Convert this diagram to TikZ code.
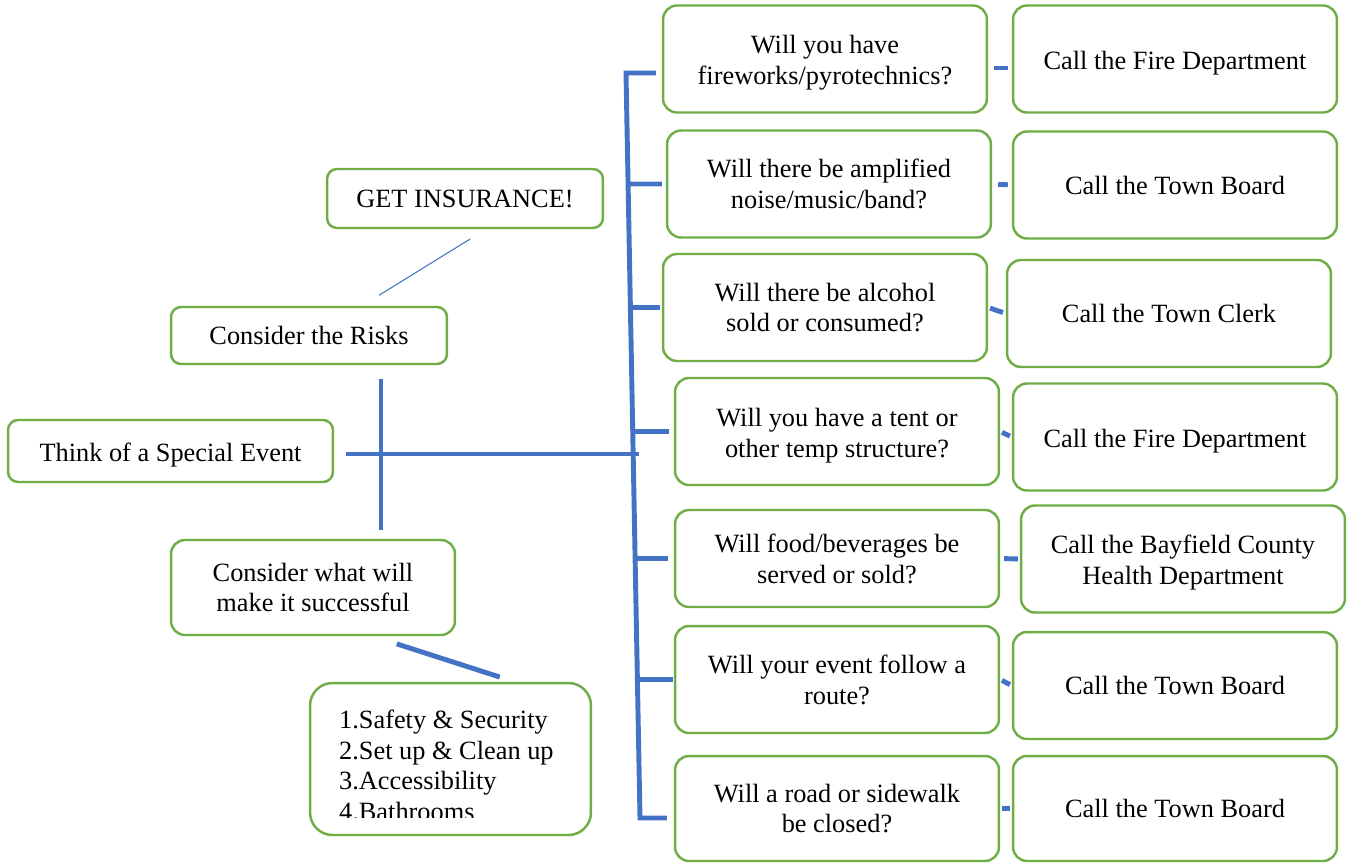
\documentclass[tikz,border=0pt]{standalone}
\usepackage{fontspec}
\setmainfont{Liberation Serif}
\usetikzlibrary{calc}

\definecolor{boxgreen}{RGB}{112,173,71}
\definecolor{linkblue}{RGB}{68,114,196}

\tikzset{
  box/.style={draw=boxgreen, line width=1.4pt, rounded corners=0.28cm, fill=white,
    align=center, inner sep=2pt, font=\fontsize{15}{17.6}\selectfont},
  qbox/.style={box, minimum width=6.48cm, minimum height=2.14cm},
  lowtext/.style={execute at begin node={\rule{0pt}{15pt}}},
  link/.style={draw=linkblue, line width=2.8pt},
  thinlink/.style={draw=linkblue, line width=0.6pt},
}

\begin{document}
\begin{tikzpicture}[x=0.02cm,y=-0.02cm]
\useasboundingbox (0,0) rectangle (1350,863);

%Get Insurance
\node[box,minimum width=5.52cm,minimum height=1.18cm,rounded corners=0.2cm,
] (ins) at (465,198.5){GET INSURANCE!};

%Consider the Risks
\node[box,minimum width=5.52cm,minimum height=1.14cm,rounded corners=0.2cm,
] (risks) at (309,335.5){Consider the Risks};

%Think of a Special Event
\node[box,lowtext,minimum width=6.5cm,minimum height=1.24cm,rounded corners=0.2cm,
] (think) at (170.5,451){Think of a Special Event};

%Consider what will make it successful
\node[box,minimum width=5.68cm,minimum height=1.9cm,
] (success) at (313,587.5){Consider what will\\make it successful};

%List
\node[box,minimum width=5.62cm,minimum height=3.04cm,rounded corners=0.45cm,
] (list) at (450.5,759){};

\begin{scope}
\clip (list.north west) rectangle ($(list.south east)+(0,-19)$);
\node[anchor=north west,align=left,inner sep=0pt,font=\fontsize{15}{17.4}\selectfont,
] (listtext) at ($(list.north west)+(30,28)$){1.Safety \& Security\\2.Set up \& Clean up\\3.Accessibility\\4.Bathrooms};
\end{scope}

%%%%%%%%%%%%%%%%%Questions%%%%%%%%%%%%%%
\node[qbox] (q1) at (825,59){\rule{0pt}{15pt}Will you have\\fireworks/pyrotechnics?};
\node[qbox] (q2) at (829,184){Will there be amplified\\noise/music/band?};
\node[qbox] (q3) at (825,307.5){Will there be alcohol\\sold or consumed?};
\node[qbox] (q4) at (837,431.5){\rule{0pt}{15pt}Will you have a tent or\\other temp structure?};
\node[qbox,minimum height=1.94cm] (q5) at (837,558.5){Will food/beverages be\\served or sold?};
\node[qbox] (q6) at (837,679.5){Will your event follow a\\route?};
\node[qbox,minimum height=2.1cm] (q7) at (837,808.5){Will a road or sidewalk\\be closed?};

%%%%%%%%%%%%%%%%%Answers%%%%%%%%%%%%%%
\node[qbox,lowtext] (a1) at (1175,59){Call the Fire Department};
\node[qbox] (a2) at (1175,185){Call the Town Board};
\node[qbox] (a3) at (1169,313.5){Call the Town Clerk};
\node[qbox,lowtext] (a4) at (1175,437){Call the Fire Department};
\node[qbox] (a5) at (1183,559){\rule{0pt}{15pt}Call the Bayfield County\\Health Department};
\node[qbox] (a6) at (1175,685.5){Call the Town Board};
\node[qbox,minimum height=2.1cm] (a7) at (1175,808.5){Call the Town Board};

%%%%%%%%%%%%%%%%%Links%%%%%%%%%%%%%%
%Trunk
\coordinate (ttop) at (626,73);
\coordinate (tbot) at (640,818);
\coordinate (cross) at (381,454);
\coordinate (thright) at (639,454);

\draw[link, shorten <=0.12cm, shorten >=0.14cm] (ttop -| q1.west) -- (ttop) -- (tbot) -- (tbot -| q7.west);
\draw[link, shorten >=0.08cm] (intersection of ttop--tbot and q2.west--q2.east) -- (q2.west);
\draw[link, shorten >=0.04cm] (intersection of ttop--tbot and q3.west--q3.east) -- (q3.west);
\draw[link, shorten >=0.1cm] (intersection of ttop--tbot and q4.west--q4.east) -- (q4.west);
\draw[link, shorten >=0.12cm] (intersection of ttop--tbot and q5.west--q5.east) -- (q5.west);
\draw[link, shorten >=0.02cm] (intersection of ttop--tbot and q6.west--q6.east) -- (q6.west);

%Think line and cross line
\draw[link, shorten <=0.24cm] (think.east |- cross) -- (thright);
\draw[link, shorten <=0.28cm, shorten >=0.18cm] (risks.south -| cross) -- (success.north -| cross);

\draw[thinlink, shorten <=0.37cm, shorten >=0.4cm] ($(ins.south)+(21,0)$) -- ($(risks.north)+(53,0)$);
\draw[link, shorten <=0.5cm, shorten >=0.31cm] ($(success.south)+(60,0)$) -- ($(list.north)+(64,0)$);

%Question to answer
\draw[link, shorten <=0.12cm, shorten >=0.08cm] ($(q1.east)+(0,9)$) -- ($(a1.west)+(0,9)$);
\draw[link, shorten <=0.12cm, shorten >=0.08cm] (q2.east) -- (a2.west);
\draw[link, shorten <=0.04cm, shorten >=0.06cm] (q3.east) -- (a3.west);
\draw[link, shorten <=0.04cm, shorten >=0.04cm] (q4.east) -- (a4.west);
\draw[link, shorten <=0.08cm, shorten >=0.04cm] (q5.east) -- (a5.west);
\draw[link, shorten <=0.04cm, shorten >=0.04cm] (q6.east) -- (a6.west);
\draw[link, shorten <=0.04cm, shorten >=0.04cm] (q7.east) -- (a7.west);

\end{tikzpicture}
\end{document}
